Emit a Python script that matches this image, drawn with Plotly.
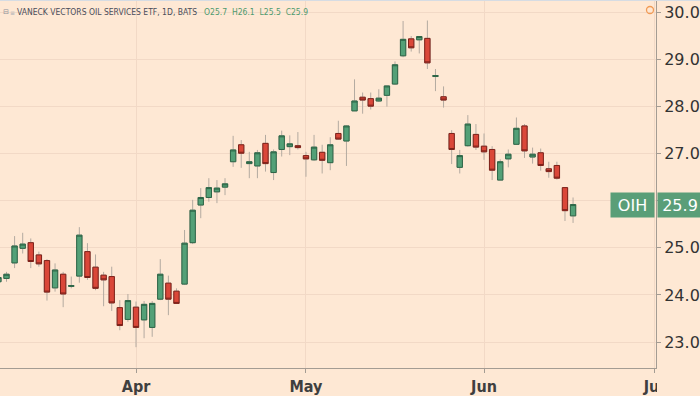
import numpy as np
import pandas as pd
import plotly.graph_objects as go

# ---------------- data ----------------
holidays = ["2018-03-30", "2018-05-28", "2018-07-04"]
first_day = "2018-03-07"
last_day = "2018-06-18"

opens = [24.28, 24.35, 24.68, 24.99, 25.11, 24.85, 24.73, 24.15, 24.44, 24.18,
         24.40, 24.92, 24.59, 24.42, 24.39, 23.73, 23.48,
         23.74, 23.47, 23.31, 23.91, 24.25, 24.08, 24.23, 25.11, 25.91, 26.07,
         26.19, 26.29, 26.83, 27.19, 26.79, 26.74, 27.22, 26.60, 27.09, 27.15, 27.17,
         26.96, 26.87, 27.03, 26.81, 27.43, 27.27, 27.91, 28.20, 28.17, 28.12, 28.24,
         28.48, 29.08, 29.44, 29.42, 29.45, 28.64, 28.21, 27.43, 26.71, 27.17, 27.41,
         27.16, 27.09, 26.44, 26.89, 27.20, 27.59, 26.93, 27.02, 26.68, 26.75, 26.28, 25.68]
highs = [24.45, 24.49, 25.25, 25.32, 25.20, 24.92, 24.76, 24.67, 24.49, 24.39,
         25.44, 25.10, 24.86, 24.49, 24.60, 23.89, 24.02,
         23.86, 23.87, 23.87, 24.76, 24.41, 24.14, 25.38, 26.02, 26.27, 26.48,
         26.44, 26.48, 27.38, 27.29, 27.04, 27.08, 27.40, 27.09, 27.49, 27.39, 27.46,
         27.04, 27.40, 27.19, 27.35, 27.70, 27.60, 28.58, 28.30, 28.30, 28.37, 28.44,
         28.96, 29.82, 29.50, 29.50, 29.83, 28.80, 28.43, 27.50, 27.08, 27.82, 27.63,
         27.43, 27.16, 26.88, 27.09, 27.77, 27.63, 27.13, 27.11, 26.83, 26.83, 26.28, 26.07]
lows = [24.20, 24.28, 24.57, 24.88, 24.57, 24.60, 23.88, 24.07, 23.74, 24.14,
        24.26, 24.32, 24.10, 23.76, 23.66, 23.25, 23.43,
        22.89, 23.08, 23.11, 23.89, 23.57, 23.81, 24.21, 25.08, 25.63, 25.98,
        25.95, 26.12, 26.72, 26.70, 26.48, 26.48, 26.62, 26.44, 26.94, 26.97, 27.09,
        26.51, 26.85, 26.58, 26.65, 27.30, 26.74, 27.91, 27.85, 27.94, 28.10, 28.00,
        28.46, 29.05, 29.17, 29.13, 28.80, 28.33, 27.98, 26.78, 26.58, 27.15, 27.08,
        26.87, 26.44, 26.44, 26.71, 27.19, 26.91, 26.79, 26.64, 26.49, 26.45, 25.57, 25.53]
closes = [24.37, 24.44, 25.04, 25.08, 24.71, 24.66, 24.06, 24.53, 24.02, 24.20,
          25.27, 24.37, 24.14, 24.32, 23.83, 23.35, 23.88,
          23.31, 23.80, 23.82, 24.44, 23.91, 23.82, 25.10, 25.80, 26.07, 26.28,
          26.27, 26.36, 27.08, 27.01, 26.83, 27.02, 26.79, 27.04, 27.38, 27.21, 27.13,
          26.89, 27.14, 26.86, 27.19, 27.31, 27.59, 28.12, 28.14, 28.01, 28.18, 28.44,
          28.89, 29.43, 29.25, 29.49, 28.93, 28.66, 28.14, 27.09, 26.96, 27.63, 27.14,
          27.04, 26.65, 26.83, 26.99, 27.54, 27.06, 26.99, 26.75, 26.62, 26.48, 25.79, 25.92]

month_starts = ["2018-04-02", "2018-05-01", "2018-06-01", "2018-07-02"]
month_labels = ["Apr", "May", "Jun", "Jul"]
price_ticks = [23, 24, 25, 26, 27, 28, 29, 30]

symbol = "OIH"
title_text = "VANECK VECTORS OIL SERVICES ETF, 1D, BATS"
ohlc_text = "O25.7  H26.1  L25.5  C25.9"

# ---------------- styles ----------------
BG = "#FEE8D4"
GRID = "#F2D9C6"
AXIS = "#A49C93"
WICK = "#B3AAA0"
UP_FILL, UP_LINE = "#53A077", "#2D6647"
DN_FILL, DN_LINE = "#DA4739", "#7E2119"
LABEL_GREEN = "#5A9E78"

W, H = 700, 396
ML, MR, MT, MB = 0, 44, 0, 28
PW, PH = W - ML - MR, H - MT - MB

dates = pd.bdate_range(first_day, last_day, freq="C", holidays=holidays)
x = np.arange(len(dates))
tick_pos = [int(np.busday_count(first_day, d, holidays=holidays)) for d in month_starts]

o = np.array(opens); h = np.array(highs); l = np.array(lows); c = np.array(closes)
last_close = closes[-1]

# the price-scale label of the last close covers the nearest tick label
price_text = ["" if abs(t - last_close) < 0.3 else f"{t:.1f}" for t in price_ticks]

fig = go.Figure()
# wicks (gray)
fig.add_trace(go.Candlestick(
    x=x, open=o, high=h, low=l, close=c,
    increasing=dict(line=dict(color=WICK, width=1), fillcolor="rgba(0,0,0,0)"),
    decreasing=dict(line=dict(color=WICK, width=1), fillcolor="rgba(0,0,0,0)"),
    hoverinfo="skip", showlegend=False))
# bodies
fig.add_trace(go.Candlestick(
    x=x, open=o, high=np.maximum(o, c), low=np.minimum(o, c), close=c,
    increasing=dict(line=dict(color=UP_LINE, width=1), fillcolor=UP_FILL),
    decreasing=dict(line=dict(color=DN_LINE, width=1), fillcolor=DN_FILL),
    hoverinfo="skip", showlegend=False))

# x range: Apr tick at px 136, Jul tick at px 654
px_per_bar = (654 - 136) / (tick_pos[3] - tick_pos[0])
x0 = tick_pos[0] - 136 / px_per_bar
x1 = x0 + PW / px_per_bar
# y range: 23 at px 342, 30 at px 12.5
px_per_unit = (342 - 12.5) / 7
y_top = 23 + 342 / px_per_unit
y_bot = 23 - (PH - 342) / px_per_unit

fig.update_layout(
    width=W, height=H,
    margin=dict(l=ML, r=MR, t=MT, b=MB, pad=0),
    paper_bgcolor=BG, plot_bgcolor=BG,
    boxgap=0.34, boxgroupgap=0, boxmode="overlay",
    showlegend=False,
    xaxis=dict(
        range=[x0, x1], rangeslider=dict(visible=False),
        tickvals=tick_pos, ticktext=month_labels,
        showgrid=True, gridcolor=GRID, gridwidth=1,
        zeroline=False, showline=True, linecolor=AXIS, linewidth=1,
        ticks="outside", ticklen=4, tickcolor=AXIS,
        tickfont=dict(family="Liberation Sans Narrow, DejaVu Sans Condensed, DejaVu Sans",
                      size=16, color="#3F3F3F", weight="bold"),
        fixedrange=True),
    yaxis=dict(
        range=[y_bot, y_top], side="right",
        tickvals=price_ticks, ticktext=price_text,
        showgrid=True, gridcolor=GRID, gridwidth=1,
        zeroline=False, showline=True, linecolor=AXIS, linewidth=1,
        ticks="outside", ticklen=4, tickcolor=AXIS,
        tickfont=dict(family="DejaVu Sans", size=16, color="#333333"),
        fixedrange=True),
)

# hide the part of the last month label that runs under the price scale
fig.add_shape(type="rect", xref="paper", yref="paper",
              x0=(PW + 1) / PW, x1=W / PW, y0=-MB / PH, y1=-1.5 / PH,
              fillcolor=BG, line=dict(width=0), layer="above")
# top border
fig.add_shape(type="line", xref="paper", yref="paper", x0=0, x1=W / PW, y0=1, y1=1,
              line=dict(color="#D6DCE3", width=2), layer="above")
# small clock icon
fig.add_shape(type="circle", xref="paper", yref="paper",
              x0=646.5 / PW, x1=653.5 / PW, y0=1 - 13.5 / PH, y1=1 - 6.5 / PH,
              line=dict(color="#F29B55", width=1.3), layer="above")

fig.add_annotation(text=symbol, xref="paper", yref="y", x=(PW - 1) / PW, y=last_close,
                   xanchor="right", yanchor="middle", showarrow=False,
                   width=39, height=20, borderpad=2, bgcolor=LABEL_GREEN,
                   font=dict(family="DejaVu Sans", size=16, color="white"))
fig.add_annotation(text=f"{last_close:.1f}", xref="paper", yref="y", x=(PW + 0.5) / PW, y=last_close,
                   xanchor="left", yanchor="middle", showarrow=False,
                   width=40, height=20, borderpad=2, bgcolor=LABEL_GREEN,
                   font=dict(family="DejaVu Sans", size=16, color="white"))

fig.add_annotation(text="⊟", xref="paper", yref="paper", x=1 / PW, y=1 - 12 / PH,
                   xanchor="left", yanchor="middle", showarrow=False,
                   font=dict(family="DejaVu Sans", size=7, color="#8A8F99"))
fig.add_annotation(text="≡", xref="paper", yref="paper", x=8 / PW, y=1 - 12 / PH,
                   xanchor="left", yanchor="middle", showarrow=False,
                   font=dict(family="DejaVu Sans", size=6, color="#A8ADB5"))
fig.add_annotation(text=title_text, xref="paper", yref="paper", x=15 / PW, y=1 - 12 / PH,
                   xanchor="left", yanchor="middle", showarrow=False,
                   font=dict(family="Liberation Sans Narrow, DejaVu Sans Condensed, Liberation Sans",
                             size=8.5, color="#4A4D5A"))
fig.add_annotation(text=ohlc_text, xref="paper", yref="paper", x=202 / PW, y=1 - 12 / PH,
                   xanchor="left", yanchor="middle", showarrow=False,
                   font=dict(family="Liberation Sans Narrow, DejaVu Sans Condensed, Liberation Sans",
                             size=8.5, color="#4E9A6E"))

fig.write_html("out.html", config={"displayModeBar": False},
               post_script="document.body.style.margin='0';document.body.style.overflow='hidden';")
